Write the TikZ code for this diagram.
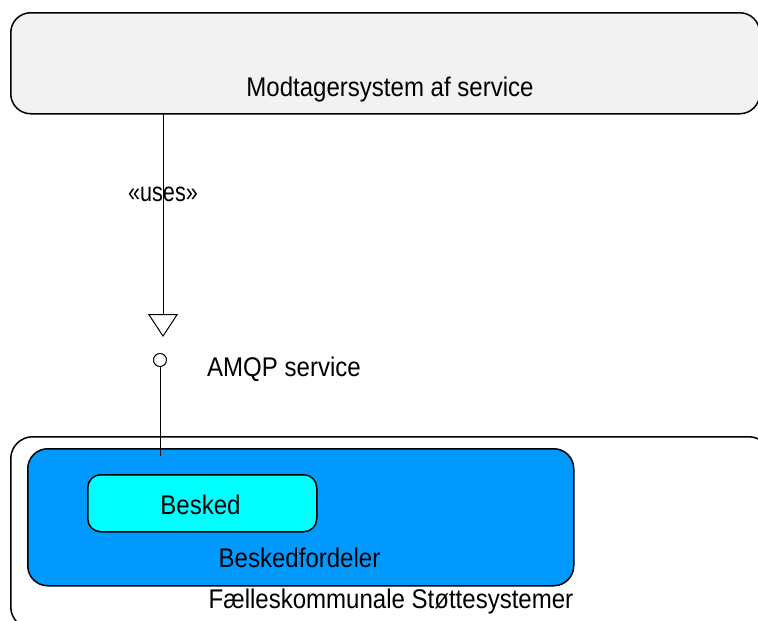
\documentclass[tikz,border=0pt]{standalone}
\usepackage{fontspec}
\usepackage{graphicx}
\setmainfont{Liberation Sans}
\usetikzlibrary{arrows.meta}
\definecolor{sysgray}{HTML}{F2F2F2}
\definecolor{brokerblue}{HTML}{0099FF}
\definecolor{msgcyan}{HTML}{00FFFF}
\newcommand{\mytxt}[1]{\scalebox{0.89}[1]{#1}}
\begin{document}
\begin{tikzpicture}[x=1pt,y=-1pt,
  box/.style={draw, line width=1.5pt, rounded corners=20pt, inner sep=0pt, anchor=north west},
  txt/.style={font=\fontsize{27}{30}\selectfont, inner sep=0pt, anchor=base},
  conn/.style={line width=1pt},
]
\useasboundingbox (0,0) rectangle (758,621);
% boxes
\node[box, fill=sysgray, minimum width=749pt, minimum height=101pt] (sys) at (10,12) {};
\node[box, fill=white, rounded corners=22pt, minimum width=760pt, minimum height=192pt] (outer) at (10,436) {};
\node[box, fill=brokerblue, minimum width=546pt, minimum height=137pt] (broker) at (27,448) {};
\node[box, fill=msgcyan, rounded corners=13pt, minimum width=229pt, minimum height=57pt] (besked) at (87,474) {};
% labels
\node[txt] (systxt) at (390,96) {\mytxt{Modtagersystem af service}};
\node[txt] (uses) at (163,201) {\scalebox{0.8}[1]{«uses»}};
\node[txt, anchor=base west] (amqptxt) at (207,376) {\mytxt{AMQP service}};
\node[txt] (beskedtxt) at (200.5,514) {\mytxt{Besked}};
\node[txt] (brokertxt) at (299.5,567) {\mytxt{Beskedfordeler}};
\node[txt] (outertxt) at (391,608) {\mytxt{Fælleskommunale Støttesystemer}};
% interface lollipop
\node[draw, circle, line width=1pt, minimum size=13pt, inner sep=0pt, fill=white] (amqp) at (160,360) {};
\coordinate (tip) at (163,337);
\coordinate (top) at (163,112.5);
\coordinate (attach) at (160,456);
% connectors
\draw[conn, -{Triangle[open, length=23pt, width=30pt, line width=1pt]}] (top) -- (tip);
\draw[conn] (amqp.south) -- (attach);
\end{tikzpicture}
\end{document}
